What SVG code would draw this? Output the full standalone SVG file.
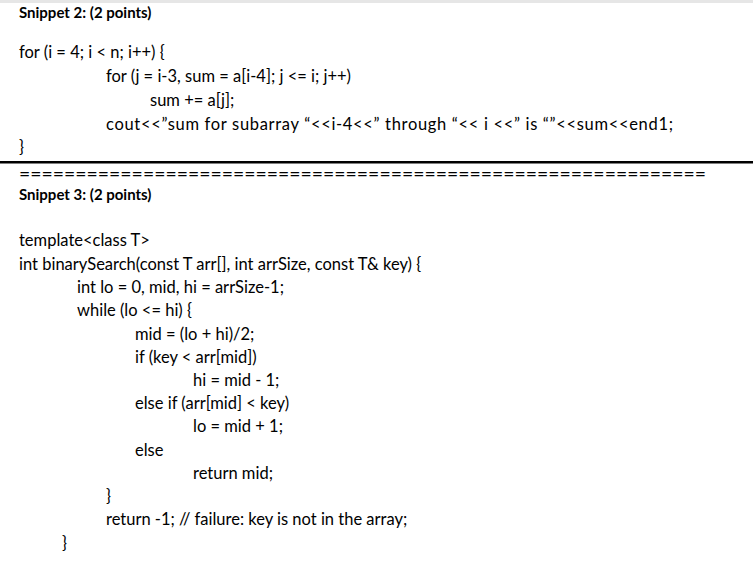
<svg xmlns="http://www.w3.org/2000/svg" width="753" height="562" viewBox="0 0 753 562">
<style>
text{font-family:Lato,"Liberation Sans",sans-serif;font-size:16.5px;fill:#000}
.b{font-weight:bold;font-size:15px}
</style>
<rect width="753" height="562" fill="#fff"/>
<rect width="753" height="3" fill="#e6e6e6"/>
<text class="b" x="19" y="18">Snippet 2: (2 points)</text>
<text x="19" y="58">for (i = 4; i &lt; n; i++) {</text>
<text x="106" y="82">for (j = i-3, sum = a[i-4]; j &lt;= i; j++)</text>
<text x="150" y="106">sum += a[j];</text>
<text x="106" y="130" textLength="567">cout&lt;&lt;”sum for subarray “&lt;&lt;i-4&lt;&lt;” through “&lt;&lt; i &lt;&lt;” is “”&lt;&lt;sum&lt;&lt;end1;</text>
<text x="19" y="153">}</text>
<rect x="0" y="161" width="753" height="2.5" fill="#000"/>
<text x="19" y="180" textLength="687" lengthAdjust="spacingAndGlyphs">=============================================================</text>
<text class="b" x="19" y="200">Snippet 3: (2 points)</text>
<text x="19" y="246">template&lt;class T&gt;</text>
<text x="19" y="270">int binarySearch(const T arr[], int arrSize, const T&amp; key) {</text>
<text x="77" y="293">int lo = 0, mid, hi = arrSize-1;</text>
<text x="77" y="316">while (lo &lt;= hi) {</text>
<text x="135" y="340">mid = (lo + hi)/2;</text>
<text x="135" y="363">if (key &lt; arr[mid])</text>
<text x="193" y="386">hi = mid - 1;</text>
<text x="135" y="409">else if (arr[mid] &lt; key)</text>
<text x="193" y="432">lo = mid + 1;</text>
<text x="135" y="456">else</text>
<text x="193" y="479">return mid;</text>
<text x="106" y="502">}</text>
<text x="106" y="525">return -1; // failure: key is not in the array;</text>
<text x="62" y="549">}</text>
</svg>
